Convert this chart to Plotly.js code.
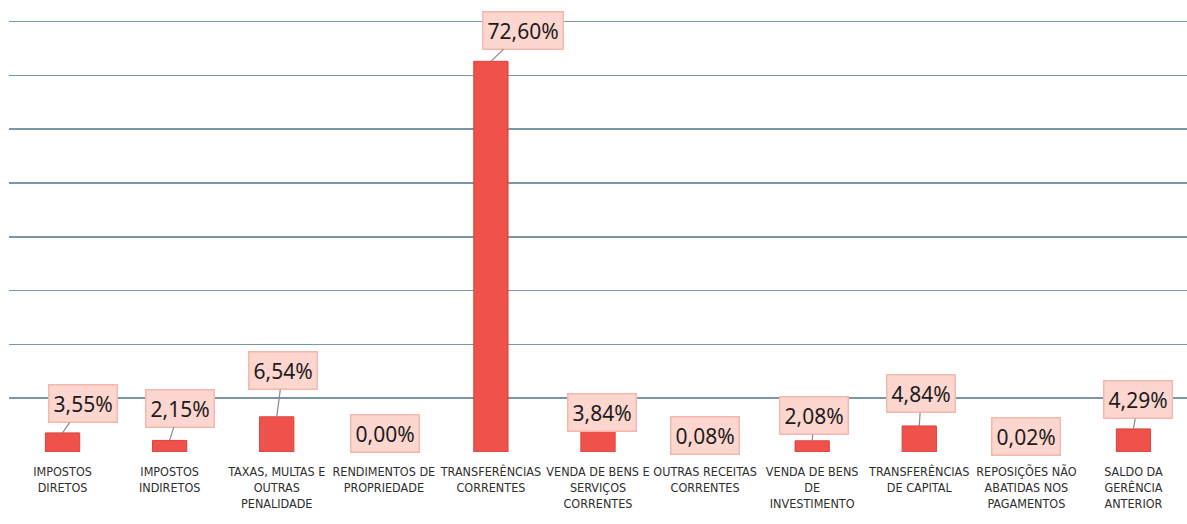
<!DOCTYPE html>
<html>
<head>
<meta charset="utf-8">
<script src="https://cdn.plot.ly/plotly-3.0.1.min.js"></script>
<style>html,body{margin:0;padding:0;background:#fff;}#chart{width:1187px;height:524px;}</style>
</head>
<body>
<div id="chart"></div>
<script>
const categories = [
  "IMPOSTOS<br>DIRETOS",
  "IMPOSTOS<br>INDIRETOS",
  "TAXAS, MULTAS E<br>OUTRAS<br>PENALIDADE",
  "RENDIMENTOS DE<br>PROPRIEDADE",
  "TRANSFERÊNCIAS<br>CORRENTES",
  "VENDA DE BENS E<br>SERVIÇOS<br>CORRENTES",
  "OUTRAS RECEITAS<br>CORRENTES",
  "VENDA DE BENS<br>DE<br>INVESTIMENTO",
  "TRANSFERÊNCIAS<br>DE CAPITAL",
  "REPOSIÇÕES NÃO<br>ABATIDAS NOS<br>PAGAMENTOS",
  "SALDO DA<br>GERÊNCIA<br>ANTERIOR"
];
const values = [3.55, 2.15, 6.54, 0.00, 72.60, 3.84, 0.08, 2.08, 4.84, 0.02, 4.29];
const valueLabels = ["3,55%", "2,15%", "6,54%", "0,00%", "72,60%", "3,84%", "0,08%", "2,08%", "4,84%", "0,02%", "4,29%"];

// label box offsets (pixels) from bar top
const labelDx = [20, 10, 6, 1, 32, 4, 0, 2, 2, 0, 5];
const labelDy = [-29, -32, -46, -19, -31, -19, -16, -25, -32, -15, -29];

const annotations = values.map((v, i) => ({
  x: i, y: v, xref: 'x', yref: 'y',
  text: valueLabels[i],
  showarrow: true, arrowhead: 0, arrowwidth: 1.2, arrowcolor: '#8a8a8a',
  ax: labelDx[i], ay: labelDy[i],
  bgcolor: '#fcd6cf', bordercolor: '#f6b8ad', borderwidth: 1.5, borderpad: 4,
  font: {family: 'Noto Sans, Open Sans, sans-serif', size: 21, color: '#1c1c1c'}
}));

const trace = {
  type: 'bar',
  x: categories.map((c, i) => i),
  y: values,
  width: 0.32,
  marker: {color: '#ef524b', line: {color: '#d9433d', width: 1}},
  hoverinfo: 'skip'
};

const layout = {
  width: 1187, height: 524,
  margin: {l: 9, r: 0, t: 0, b: 72},
  paper_bgcolor: '#ffffff', plot_bgcolor: '#ffffff',
  showlegend: false,
  xaxis: {
    tickmode: 'array', tickvals: categories.map((c, i) => i), ticktext: categories,
    range: [-0.5, 10.5],
    showgrid: false, zeroline: false, showline: false, ticks: '',
    tickangle: 0, ticklabelstandoff: 10,
    tickfont: {family: 'DejaVu Sans Condensed, Liberation Sans, sans-serif', size: 12.5, color: '#2e2e2e'}
  },
  yaxis: {
    range: [0, 84], dtick: 10, showticklabels: false,
    showgrid: true, gridcolor: '#7a97a9', gridwidth: 1.5,
    zeroline: false, showline: false, ticks: ''
  },
  annotations: annotations
};

Plotly.newPlot('chart', [trace], layout, {displayModeBar: false, staticPlot: true});
</script>
</body>
</html>
